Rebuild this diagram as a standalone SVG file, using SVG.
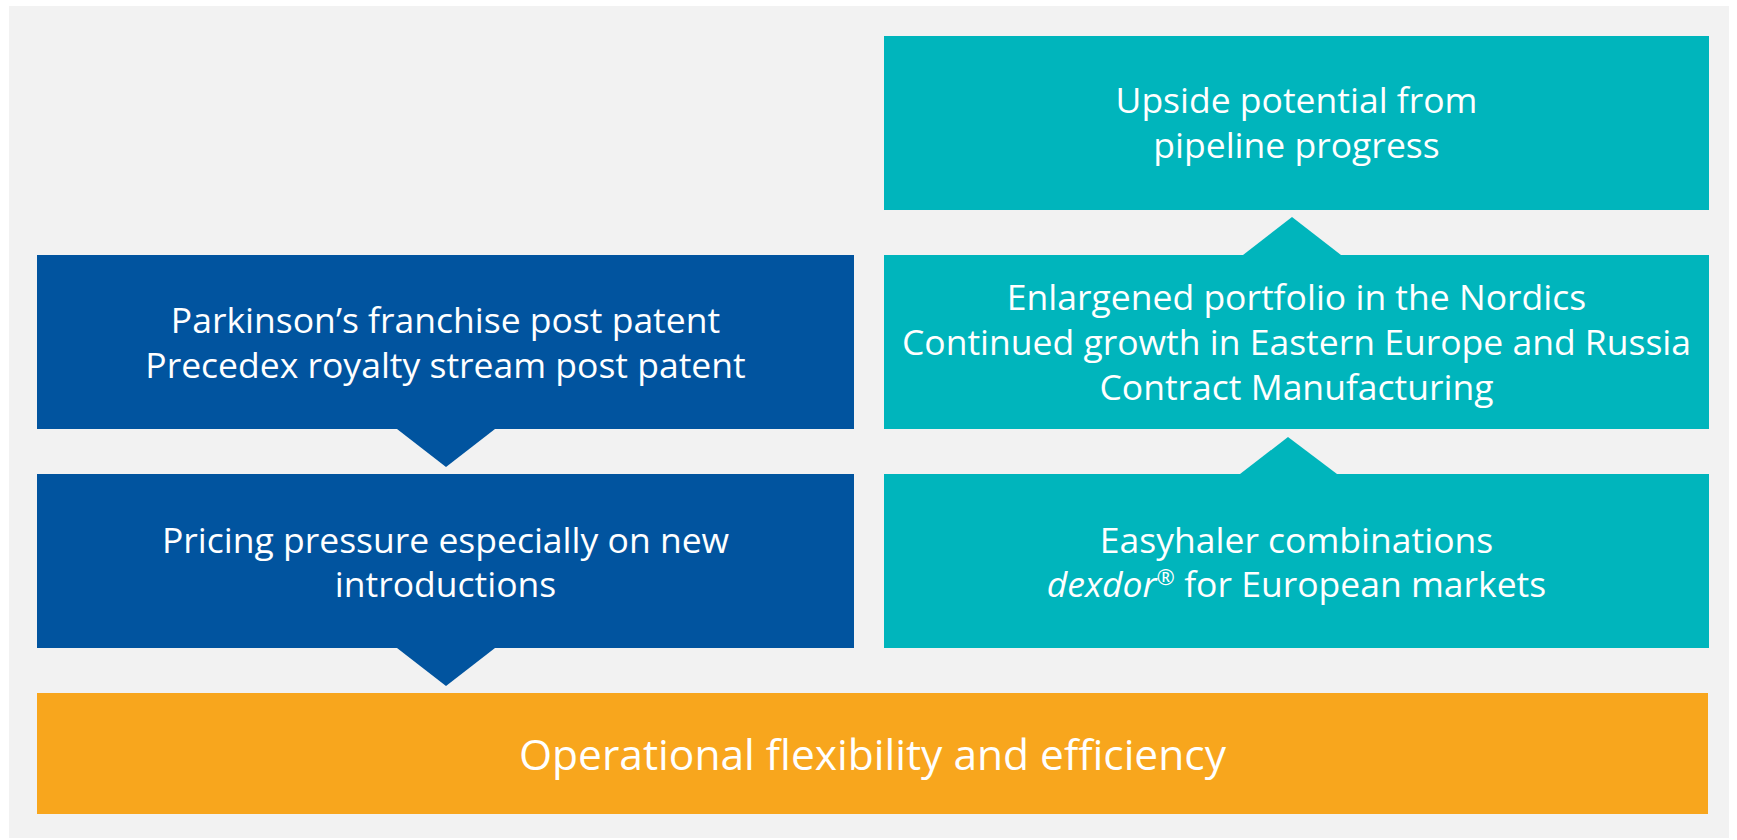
<svg xmlns="http://www.w3.org/2000/svg" width="1737" height="840" viewBox="0 0 1737 840">
<style>
.t{font-family:"Open Sans","DejaVu Sans",sans-serif;fill:#ffffff;text-anchor:middle;font-size:35.5px}
.big{font-size:42.5px}
.blue{fill:#01549F}
.teal{fill:#00B5BC}
.orange{fill:#F8A61D}
</style>
<rect x="0" y="0" width="1737" height="840" fill="#ffffff"/>
<rect x="9" y="6" width="1720" height="832" fill="#F2F2F2"/>
<g id="connectors">
<polygon class="blue" points="397,429 495,429 446,467"/>
<polygon class="blue" points="397,648 495,648 446,686"/>
<polygon class="teal" points="1243,255 1341,255 1292,217"/>
<polygon class="teal" points="1240,474 1337,474 1288,437"/>
</g>
<g id="node-upside">
<rect class="teal" x="884" y="36" width="825" height="174"/>
<text class="t" x="1296.5" y="113">Upside potential from</text>
<text class="t" x="1296.5" y="158">pipeline progress</text>
</g>
<g id="node-nordics">
<rect class="teal" x="884" y="255" width="825" height="174"/>
<text class="t" x="1296.5" y="310">Enlargened portfolio in the Nordics</text>
<text class="t" x="1296.5" y="355">Continued growth in Eastern Europe and Russia</text>
<text class="t" x="1296.5" y="400">Contract Manufacturing</text>
</g>
<g id="node-easyhaler">
<rect class="teal" x="884" y="474" width="825" height="174"/>
<text class="t" x="1296.5" y="553">Easyhaler combinations</text>
<text class="t" x="1296.5" y="597"><tspan font-style="italic">dexdor</tspan><tspan font-size="22" dy="-12">®</tspan><tspan dy="12"> for European markets</tspan></text>
</g>
<g id="node-parkinson">
<rect class="blue" x="37" y="255" width="817" height="174"/>
<text class="t" x="445.5" y="333">Parkinson’s franchise post patent</text>
<text class="t" x="445.5" y="378">Precedex royalty stream post patent</text>
</g>
<g id="node-pricing">
<rect class="blue" x="37" y="474" width="817" height="174"/>
<text class="t" x="445.5" y="553">Pricing pressure especially on new</text>
<text class="t" x="445.5" y="597">introductions</text>
</g>
<g id="node-operational">
<rect class="orange" x="37" y="693" width="1671" height="121"/>
<text class="t big" x="872.5" y="770">Operational flexibility and efficiency</text>
</g>
</svg>
